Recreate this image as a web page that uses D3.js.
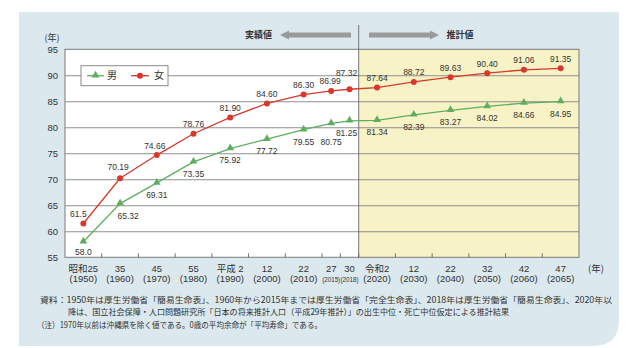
<!DOCTYPE html>
<html><head><meta charset="utf-8">
<script src="https://cdn.jsdelivr.net/npm/d3@7"></script>
<style>
html,body{margin:0;padding:0;background:#fff;}
svg{display:block;}
text{font-family:"Liberation Sans",Arial,"Noto Sans CJK JP",sans-serif;fill:#333;}
.jp{font-family:"Noto Sans CJK JP",sans-serif;}
</style></head>
<body>
<svg id="chart" width="640" height="348"></svg>
<script>
// ---- data ----
const groups = ['1950','1960','1970','1980','1990','2000','2010','2015-2018','2020','2030','2040','2050','2060','2065'];
const years = [1950,1960,1970,1980,1990,2000,2010,2015,2018,2020,2030,2040,2050,2060,2065];
const eraLabels = ['昭和25','35','45','55','平成 2','12','22','27','30','令和2','12','22','32','42','47'];
const male = [58.0,65.32,69.31,73.35,75.92,77.72,79.55,80.75,81.25,81.34,82.39,83.27,84.02,84.66,84.95];
const female = [61.5,70.19,74.66,78.76,81.90,84.60,86.30,86.99,87.32,87.64,88.72,89.63,90.40,91.06,91.35];
const yTicks = [55,60,65,70,75,80,85,90,95];
const seriesNames = ['男','女'];
const notes = [
 '資料：1950年は厚生労働省「簡易生命表」、1960年から2015年までは厚生労働省「完全生命表」、2018年は厚生労働省「簡易生命表」、2020年以',
 '降は、国立社会保障・人口問題研究所「日本の将来推計人口（平成29年推計）」の出生中位・死亡中位仮定による推計結果',
 '（注）1970年以前は沖縄県を除く値である。0歳の平均余命が「平均寿命」である。'
];

// ---- layout ----
const svg = d3.select('#chart');
const L = 65, R = 579, T = 49.3, B = 257.3;
const RED = '#d8382b', GREEN = '#5fae5f', GRID = '#8e8e8e';

// background panel with rounded bottom-right corner
const px0 = 19, py0 = 12, px1 = 619, py1 = 346, rr = 26;
svg.append('path')
  .attr('d', `M${px0},${py0}H${px1}V${py1-rr}Q${px1},${py1} ${px1-rr},${py1}H${px0}Z`)
  .attr('fill', '#dbe8ee');

const x = d3.scaleBand().domain(groups).range([L, R]).padding(0);
const bw = x.bandwidth();
const y = d3.scaleLinear().domain([55, 95]).range([B, T]);
function grp(yr){ return (yr === 2015 || yr === 2018) ? '2015-2018' : String(yr); }
function xPos(yr){
  const g = grp(yr);
  if (yr === 2015) return x(g) + bw * 0.25;
  if (yr === 2018) return x(g) + bw * 0.75;
  return x(g) + bw / 2;
}
const divX = x('2020');

// plot backgrounds
svg.append('rect').attr('x', L).attr('y', T).attr('width', divX - L).attr('height', B - T).attr('fill', '#fff');
svg.append('rect').attr('x', divX).attr('y', T).attr('width', R - divX).attr('height', B - T).attr('fill', '#f8f3c6');

// gridlines
const gridAxis = d3.axisLeft(y).tickValues(yTicks.filter(v => v > 55 && v < 95)).tickSize(-(R - L)).tickFormat('');
const gg = svg.append('g').attr('transform', `translate(${L},0)`).call(gridAxis);
gg.select('.domain').remove();
gg.selectAll('line').attr('stroke', GRID).attr('stroke-width', 1.1);

// y labels
const yAxis = d3.axisLeft(y).tickValues(yTicks).tickSize(0).tickPadding(7);
const ya = svg.append('g').attr('transform', `translate(${L},0)`).call(yAxis);
ya.select('.domain').remove();
ya.selectAll('text').attr('font-size', 9.5).attr('fill', '#333')
  .style('font-family', '"Liberation Sans",Arial,sans-serif');

// plot frame
svg.append('rect').attr('x', L).attr('y', T).attr('width', R - L).attr('height', B - T)
  .attr('fill', 'none').attr('stroke', '#7a7a7a').attr('stroke-width', 1);

// divider
svg.append('line').attr('x1', divX).attr('x2', divX).attr('y1', 25).attr('y2', B)
  .attr('stroke', '#666').attr('stroke-width', 0.9);

// x ticks (inward)
const tickXs = groups.slice(1).map(g => x(g)).concat([x('2015-2018') + bw / 2]);
svg.append('g').selectAll('line').data(tickXs).join('line')
  .attr('x1', d => d).attr('x2', d => d).attr('y1', B).attr('y2', B - 4)
  .attr('stroke', '#666').attr('stroke-width', 0.9);

// x labels
const xl = svg.append('g');
years.forEach((yr, i) => {
  xl.append('text').attr('x', xPos(yr)).attr('y', 271.5)
    .attr('text-anchor', 'middle').attr('font-size', 9.5).text(eraLabels[i]);
  if (yr === 2015 || yr === 2018) {
    xl.append('text').attr('x', xPos(yr)).attr('y', 281.5).attr('text-anchor', 'middle')
      .attr('font-size', 7).attr('textLength', 18).attr('lengthAdjust', 'spacingAndGlyphs').text(`(${yr})`);
  } else {
    xl.append('text').attr('x', xPos(yr)).attr('y', 282).attr('text-anchor', 'middle')
      .attr('font-size', 9.5).text(`(${yr})`);
  }
});
svg.append('text').attr('class', 'jp').attr('x', 588).attr('y', 271.5).attr('font-size', 9.5).text('(年)');
svg.append('text').attr('class', 'jp').attr('x', 52).attr('y', 41).attr('text-anchor', 'middle').attr('font-size', 9).text('(年)');

// top arrows & labels
svg.append('path').attr('d', 'M280,35 L289,30.5 L289,32.5 L351,32.5 L351,37.5 L289,37.5 L289,39.5 Z').attr('fill', '#9a9a9a');
svg.append('path').attr('d', 'M439,35 L430,30.5 L430,32.5 L369,32.5 L369,37.5 L430,37.5 L430,39.5 Z').attr('fill', '#9a9a9a');
svg.append('text').attr('class', 'jp').attr('x', 258.5).attr('y', 38.3).attr('text-anchor', 'middle').attr('font-size', 9).attr('font-weight', 'bold').attr('fill', '#444').text('実績値');
svg.append('text').attr('class', 'jp').attr('x', 460).attr('y', 38.3).attr('text-anchor', 'middle').attr('font-size', 9).attr('font-weight', 'bold').attr('fill', '#444').text('推計値');

// lines
const line = d3.line().x(d => xPos(d.year)).y(d => y(d.v));
const maleData = years.map((yr, i) => ({year: yr, v: male[i]}));
const femaleData = years.map((yr, i) => ({year: yr, v: female[i]}));
svg.append('path').datum(maleData).attr('d', line).attr('fill', 'none').attr('stroke', GREEN).attr('stroke-width', 1.3);
svg.append('path').datum(femaleData).attr('d', line).attr('fill', 'none').attr('stroke', RED).attr('stroke-width', 1.3);

const tri = d3.symbol().type(d3.symbolTriangle).size(26);
svg.append('g').selectAll('path').data(maleData).join('path')
  .attr('d', tri).attr('transform', d => `translate(${xPos(d.year)},${y(d.v) - 0.5})`).attr('fill', GREEN);
svg.append('g').selectAll('circle').data(femaleData).join('circle')
  .attr('cx', d => xPos(d.year)).attr('cy', d => y(d.v)).attr('r', 3).attr('fill', RED);

// value labels
const fmt = (d) => d.year === 1950 ? d3.format('.1f')(d.v) : d3.format('.2f')(d.v);
const fNudge = {1950: [-5, 0], 1960: [-2, -1.5], 1970: [-2, 0], 2015: [-1, 0], 2018: [-3, -6.5]};
const mNudge = {1950: [0, -1.5], 1960: [8, 0], 2015: [0, 6.3], 2018: [-3, 0]};
svg.append('g').selectAll('text').data(femaleData).join('text')
  .attr('x', d => xPos(d.year) + (fNudge[d.year] ? fNudge[d.year][0] : 0))
  .attr('y', d => y(d.v) - 9.5 + (fNudge[d.year] ? fNudge[d.year][1] : 0))
  .attr('dy', '0.35em').attr('text-anchor', 'middle').attr('font-size', 8.5).text(fmt);
svg.append('g').selectAll('text').data(maleData).join('text')
  .attr('x', d => xPos(d.year) + (mNudge[d.year] ? mNudge[d.year][0] : 0))
  .attr('y', d => y(d.v) + 12 + (mNudge[d.year] ? mNudge[d.year][1] : 0))
  .attr('dy', '0.35em').attr('text-anchor', 'middle').attr('font-size', 8.5).text(fmt);

// legend
const lg = svg.append('g');
lg.append('rect').attr('x', 81).attr('y', 65.7).attr('width', 87).attr('height', 20)
  .attr('fill', '#fff').attr('stroke', '#8a8a8a').attr('stroke-width', 1);
const ly = 75.7;
lg.append('line').attr('x1', 87).attr('x2', 104).attr('y1', ly).attr('y2', ly).attr('stroke', GREEN).attr('stroke-width', 1.3);
lg.append('path').attr('d', tri).attr('transform', `translate(95.5,${ly - 0.5})`).attr('fill', GREEN);
lg.append('text').attr('class', 'jp').attr('x', 107).attr('y', ly + 3.6).attr('font-size', 10).text(seriesNames[0]);
lg.append('line').attr('x1', 131).attr('x2', 149).attr('y1', ly).attr('y2', ly).attr('stroke', RED).attr('stroke-width', 1.3);
lg.append('circle').attr('cx', 140).attr('cy', ly).attr('r', 3).attr('fill', RED);
lg.append('text').attr('class', 'jp').attr('x', 154).attr('y', ly + 3.6).attr('font-size', 10).text(seriesNames[1]);

// notes
svg.append('text').attr('class', 'jp').attr('x', 40).attr('y', 302.5).attr('font-size', 8.3)
  .attr('textLength', 572).attr('lengthAdjust', 'spacingAndGlyphs').text(notes[0]);
svg.append('text').attr('class', 'jp').attr('x', 68).attr('y', 315).attr('font-size', 8.3)
  .attr('textLength', 441).attr('lengthAdjust', 'spacingAndGlyphs').text(notes[1]);
svg.append('text').attr('class', 'jp').attr('x', 37).attr('y', 327.5).attr('font-size', 8.3)
  .attr('textLength', 285).attr('lengthAdjust', 'spacingAndGlyphs').text(notes[2]);
</script>
</body></html>
